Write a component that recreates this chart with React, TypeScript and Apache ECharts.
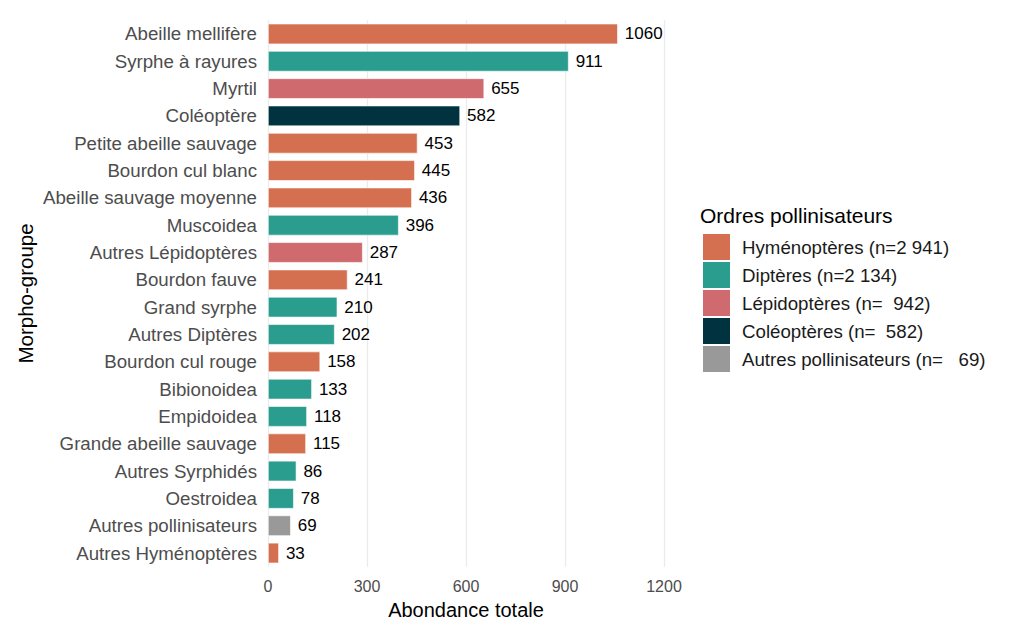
import React, { useEffect, useRef } from "react";
import * as echarts from "echarts";

// top to bottom, as in the picture
const groups = [
  "Abeille mellifère",
  "Syrphe à rayures",
  "Myrtil",
  "Coléoptère",
  "Petite abeille sauvage",
  "Bourdon cul blanc",
  "Abeille sauvage moyenne",
  "Muscoidea",
  "Autres Lépidoptères",
  "Bourdon fauve",
  "Grand syrphe",
  "Autres Diptères",
  "Bourdon cul rouge",
  "Bibionoidea",
  "Empidoidea",
  "Grande abeille sauvage",
  "Autres Syrphidés",
  "Oestroidea",
  "Autres pollinisateurs",
  "Autres Hyménoptères",
];
const abundance = [1060, 911, 655, 582, 453, 445, 436, 396, 287, 241, 210, 202, 158, 133, 118, 115, 86, 78, 69, 33];
// index into orders
const orderOf = [0, 1, 2, 3, 0, 0, 0, 1, 2, 0, 1, 1, 0, 1, 1, 0, 1, 1, 4, 0];

const orders = [
  "Hyménoptères (n=2 941)",
  "Diptères (n=2 134)",
  "Lépidoptères (n=  942)",
  "Coléoptères (n=  582)",
  "Autres pollinisateurs (n=   69)",
];
const orderColors = ["#D4704F", "#2A9D8F", "#CF6A6E", "#01323F", "#999999"];

const xTicks = [0, 300, 600, 900, 1200];

const FONT = "Liberation Sans, Arial, sans-serif";

export default function App() {
  const chartRef = useRef<HTMLDivElement>(null);

  useEffect(() => {
    if (!chartRef.current) return;
    const chart = echarts.init(chartRef.current, null, { renderer: "svg" });

    const option: echarts.EChartsOption = {
      animation: false,
      textStyle: { fontFamily: FONT },
      grid: { left: 260, right: 352, top: 12.3, bottom: 62.3 },
      xAxis: {
        type: "value",
        min: 0,
        max: xTicks[xTicks.length - 1],
        interval: 300,
        name: "Abondance totale",
        nameLocation: "middle",
        nameGap: 29,
        nameTextStyle: { fontSize: 20, color: "#000", fontFamily: FONT },
        axisLine: { show: false },
        axisTick: { show: false },
        axisLabel: {
          fontSize: 16,
          color: "#4D4D4D",
          margin: 12,
          fontFamily: FONT,
          formatter: (v: number) => String(v),
        },
        splitLine: { show: true, lineStyle: { color: "#EBEBEB", width: 1.3 } },
      },
      yAxis: {
        type: "category",
        data: groups,
        inverse: true,
        name: "Morpho-groupe",
        nameLocation: "middle",
        nameGap: 232,
        nameRotate: 90,
        nameTextStyle: { fontSize: 20.5, color: "#000", fontFamily: FONT },
        axisLine: { show: false },
        axisTick: { show: false },
        axisLabel: { fontSize: 18.7, color: "#4D4D4D", margin: 11, fontFamily: FONT },
        splitLine: { show: false },
      },
      legend: {
        orient: "vertical",
        left: 690,
        top: 221,
        itemWidth: 27,
        itemHeight: 26,
        itemGap: 2,
        icon: "rect",
        selectedMode: false,
        textStyle: { fontSize: 18.7, color: "#1A1A1A", fontFamily: FONT, padding: [0, 0, 0, 7] },
        data: orders,
      },
      graphic: [
        {
          type: "text",
          left: 692,
          top: 197,
          style: { text: "Ordres pollinisateurs", fontSize: 21, fill: "#000", fontFamily: FONT },
        },
      ],
      series: [
        {
          type: "bar",
          barWidth: "75%",
          data: abundance.map((v, i) => ({
            value: v,
            itemStyle: {
              color: orderColors[orderOf[i]],
              borderColor: "#FFFFFF",
              borderWidth: 0.6,
            },
          })),
          label: {
            show: true,
            position: "right",
            distance: 7,
            fontSize: 17,
            color: "#000",
            fontFamily: FONT,
          },
        },
        ...orders.map((name, k) => ({
          type: "scatter" as const,
          name,
          data: [],
          itemStyle: { color: orderColors[k], opacity: 1 },
        })),
      ],
    };

    chart.setOption(option);
    return () => chart.dispose();
  }, []);

  return <div ref={chartRef} style={{ width: 1008, height: 621 }} />;
}
